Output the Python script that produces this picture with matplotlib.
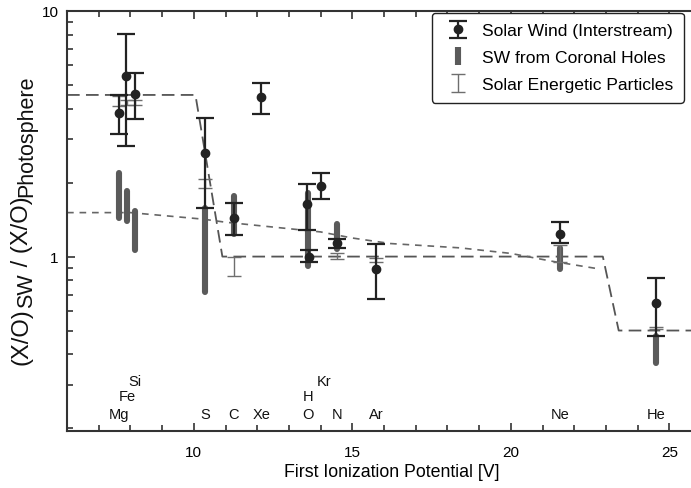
import numpy as np
import matplotlib
matplotlib.use('Agg')
import matplotlib.pyplot as plt
from matplotlib.transforms import IdentityTransform
from matplotlib.ticker import MultipleLocator, LogLocator, NullFormatter, FixedLocator, FixedFormatter

plt.rcParams['font.family'] = ['Liberation Sans', 'DejaVu Sans']

# Solar wind (interstream): FIP, value, lower, upper
sw_fip = [7.65, 7.87, 8.15, 10.36, 11.26, 12.13, 13.58, 13.62, 14.0, 14.53, 15.76, 21.56, 24.59]
sw_val = [3.83, 5.41, 4.60, 2.63, 1.44, 4.45, 1.63, 1.00, 1.94, 1.14, 0.893, 1.23, 0.65]
sw_lo = [3.16, 2.83, 3.63, 1.57, 1.22, 3.81, 1.28, 0.95, 1.71, 1.08, 0.67, 1.14, 0.473]
sw_hi = [4.55, 8.05, 5.58, 3.68, 1.66, 5.11, 1.97, 1.06, 2.18, 1.18, 1.12, 1.38, 0.82]

# SW from coronal holes: FIP, lower, upper
ch_fip = [7.65, 7.9, 8.15, 10.36, 11.26, 13.6, 14.53, 21.56, 24.59]
ch_lo = [1.43, 1.39, 1.06, 0.718, 1.24, 0.916, 1.07, 0.887, 0.37]
ch_hi = [2.18, 1.85, 1.54, 1.57, 1.76, 1.81, 1.36, 1.085, 0.473]

# Solar energetic particles: FIP, lower, upper
sep_fip = [7.65, 7.9, 8.15, 10.36, 11.26, 14.53, 15.76, 21.56, 24.59]
sep_lo = [4.12, 4.15, 4.15, 1.91, 0.83, 0.98, 0.95, 0.95, 0.505]
sep_hi = [4.50, 4.35, 4.35, 2.06, 1.00, 1.035, 0.99, 1.11, 0.516]

# model curves
step_x = [6, 10.05, 10.9, 22.9, 23.4, 27]
step_y = [4.55, 4.55, 1.0, 1.0, 0.5, 0.5]
slope_x = [6, 8.0, 10.3, 11.0, 14.0, 15.0, 16.2, 18.4, 20.0, 21.3, 22.8]
slope_y = [1.51, 1.51, 1.42, 1.38, 1.26, 1.19, 1.13, 1.085, 1.03, 0.957, 0.89]

# element labels: name, FIP, row
el_names = ['Mg', 'Fe', 'Si', 'S', 'C', 'Xe', 'H', 'O', 'Kr', 'N', 'Ar', 'Ne', 'He']
el_fip = [7.65, 7.9, 8.15, 10.36, 11.26, 12.13, 13.6, 13.6, 14.1, 14.53, 15.76, 21.56, 24.59]
el_row = [0, 1, 2, 0, 0, 0, 1, 0, 2, 0, 0, 0, 0]
row_y = [0.228, 0.27, 0.312]

fig = plt.figure(figsize=(6.91, 4.89), dpi=100)
ax = fig.add_axes([0.097, 0.1166, 0.9406, 0.859])

ax.plot(step_x, step_y, color='#555555', lw=1.3, dashes=(7, 3.5), zorder=1)
ax.plot(slope_x, slope_y, color='#666666', lw=1.2, dashes=(4, 3.5), zorder=1)

ch_mid = [(a + b) / 2 for a, b in zip(ch_lo, ch_hi)]
ch_err = [[m - a for m, a in zip(ch_mid, ch_lo)], [b - m for m, b in zip(ch_mid, ch_hi)]]
ch = ax.errorbar(ch_fip, ch_mid, yerr=ch_err, fmt='none', ecolor='#5a5a5a',
                 elinewidth=4.4, capsize=0, zorder=2, label='SW from Coronal Holes')
ch.lines[2][0].set_capstyle('round')

sep_mid = [(a + b) / 2 for a, b in zip(sep_lo, sep_hi)]
sep_err = [[m - a for m, a in zip(sep_mid, sep_lo)], [b - m for m, b in zip(sep_mid, sep_hi)]]
sep = ax.errorbar(sep_fip, sep_mid, yerr=sep_err, fmt='none', ecolor='#6e6e6e',
                  elinewidth=1.0, capsize=5, capthick=1.0, zorder=3,
                  label='Solar Energetic Particles')

sw_err = [[v - a for v, a in zip(sw_val, sw_lo)], [b - v for v, b in zip(sw_val, sw_hi)]]
sw = ax.errorbar(sw_fip, sw_val, yerr=sw_err, fmt='o', color='#222222', ms=6,
                 elinewidth=1.6, capsize=6.5, capthick=1.6, zorder=4,
                 label='Solar Wind (Interstream)')

for name, x, r in zip(el_names, el_fip, el_row):
    ax.text(x, row_y[r], name, ha='center', va='center', fontsize=10.5, color='#111111')

ax.set_yscale('log')
ax.set_xlim(6, 26.5)
ax.set_ylim(0.195, 10)
ax.xaxis.set_major_locator(MultipleLocator(5))
ax.xaxis.set_minor_locator(MultipleLocator(1))
ax.yaxis.set_major_locator(FixedLocator([1, 10]))
ax.yaxis.set_major_formatter(FixedFormatter(['1', '10']))
ax.yaxis.set_minor_locator(LogLocator(base=10, subs=np.arange(2, 10)))
ax.yaxis.set_minor_formatter(NullFormatter())
ax.tick_params(which='both', direction='in', top=True, right=True, labelsize=11,
               color='#333333', width=1.2)
ax.tick_params(axis='x', which='major', length=6, pad=10)
ax.tick_params(axis='y', which='major', length=6, pad=6)
ax.tick_params(which='minor', length=4)
for s in ax.spines.values():
    s.set_linewidth(1.5)
    s.set_color('#333333')

ax.set_xlabel('First Ionization Potential [V]', fontsize=12.8, labelpad=3)

# y label built from pieces so the subscripts stay large
renderer = fig.canvas.get_renderer()
pieces = [('(X/O)', 17, 0), ('SW', 15.5, 4), (' / (X/O)', 17, 0), ('Photosphere', 15.5, 4)]
base_x = 28
texts = []
total = 0
for s, size, dx in pieces:
    t = fig.text(0, 0, s, fontsize=size, rotation=90, rotation_mode='anchor',
                 ha='left', va='baseline', transform=IdentityTransform(), color='#111111')
    h = t.get_window_extent(renderer).height
    texts.append((t, h, dx))
    total += h
y0 = (489 - 220) - total / 2
for t, h, dx in texts:
    t.set_position((base_x + dx, y0))
    y0 += h

leg = ax.legend(handles=[sw, ch, sep], loc='upper left', bbox_to_anchor=(432 / 691, 0.972),
                bbox_transform=fig.transFigure, fontsize=12.6, handlelength=1.75,
                handletextpad=0.5, borderpad=0.6, borderaxespad=0, labelspacing=0.66,
                fancybox=True, framealpha=1, edgecolor='#222222')
leg.get_frame().set_linewidth(1.0)

fig.savefig('out.png', dpi=100)
